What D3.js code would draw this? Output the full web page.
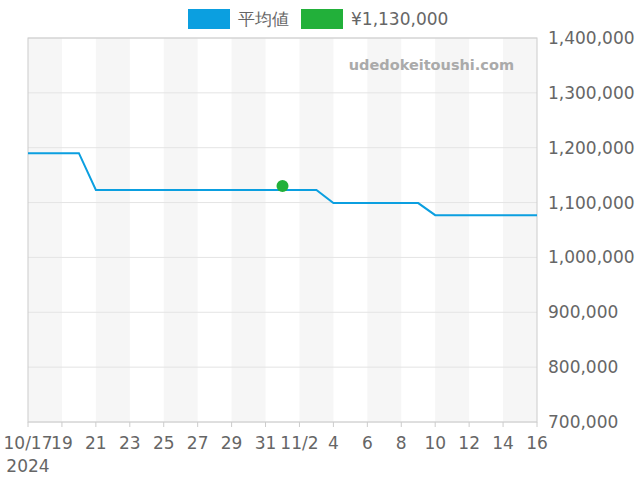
<!DOCTYPE html>
<html><head><meta charset="utf-8">
<script src="https://cdn.jsdelivr.net/npm/d3@7"></script>
<style>body{margin:0;background:#fff}</style></head>
<body><svg id="c" width="640" height="480"></svg>
<script>
const startDate = "2024-10-17";
const avgValues = [1190000,1190000,1190000,1190000,1123000,1123000,1123000,1123000,1123000,1123000,1123000,1123000,1123000,1123000,1123000,1123000,1123000,1123000,1099000,1099000,1099000,1099000,1099000,1099000,1077000,1077000,1077000,1077000,1077000,1077000,1077000];
const pointDate = "2024-11-01", pointValue = 1130000;
const yTicks = [700000,800000,900000,1000000,1100000,1200000,1300000,1400000];
const xTickLabels = ["10/17","19","21","23","25","27","29","31","11/2","4","6","8","10","12","14","16"];
const legendLabels = ["平均値","¥1,130,000"];
const colors = ["#0b9fe0","#22b03a"];

const svg = d3.select("#c"), F = "DejaVu Sans, sans-serif";
const p = d3.timeParse("%Y-%m-%d"), s0 = p(startDate);
const dates = avgValues.map((v,i)=>d3.timeDay.offset(s0,i));
const L=28,R=537,T=38,B=422;
const x = d3.scaleTime().domain([s0, dates[dates.length-1]]).range([L,R]);
const y = d3.scaleLinear().domain([700000,1400000]).range([B,T]);
for(let i=0;i<30;i+=4) svg.append("rect").attr("x",x(dates[i])).attr("y",T).attr("width",x(dates[i+2])-x(dates[i])).attr("height",B-T).attr("fill","#f6f6f6");
yTicks.forEach(t=>svg.append("line").attr("x1",L).attr("x2",R).attr("y1",y(t)).attr("y2",y(t)).attr("stroke","#e4e4e4"));
svg.append("rect").attr("x",L).attr("y",T).attr("width",R-L).attr("height",B-T).attr("fill","none").attr("stroke","#ccc");
yTicks.forEach(t=>svg.append("text").attr("x",548).attr("y",y(t)+6).attr("font-family",F).attr("font-size",17).attr("fill","#666").text(d3.format(",")(t)));
xTickLabels.forEach((l,k)=>{const d=dates[k*2];
 svg.append("line").attr("x1",x(d)).attr("x2",x(d)).attr("y1",B).attr("y2",B+5).attr("stroke","#ccc");
 svg.append("text").attr("x",x(d)).attr("y",449).attr("text-anchor","middle").attr("font-family",F).attr("font-size",17).attr("fill","#666").text(l);});
svg.append("text").attr("x",28).attr("y",472).attr("text-anchor","middle").attr("font-family",F).attr("font-size",17).attr("fill","#666").text("2024");
svg.append("text").attr("x",514).attr("y",70).attr("text-anchor","end").attr("font-family",F).attr("font-size",14.5).attr("font-weight","bold").attr("fill","#aaa").text("udedokeitoushi.com");
svg.append("path").datum(avgValues).attr("fill","none").attr("stroke",colors[0]).attr("stroke-width",2)
 .attr("d",d3.line().x((v,i)=>x(dates[i])).y(v=>y(v)));
svg.append("circle").attr("cx",x(p(pointDate))).attr("cy",y(pointValue)).attr("r",6).attr("fill",colors[1]);
[[188,legendLabels[0]],[301,legendLabels[1]]].forEach(([lx,t],i)=>{
 svg.append("rect").attr("x",lx).attr("y",9).attr("width",42).attr("height",20).attr("fill",colors[i]);
 svg.append("text").attr("x",lx+50).attr("y",25).attr("font-family",F).attr("font-size",17).attr("fill","#666").text(t);});
</script></body></html>
